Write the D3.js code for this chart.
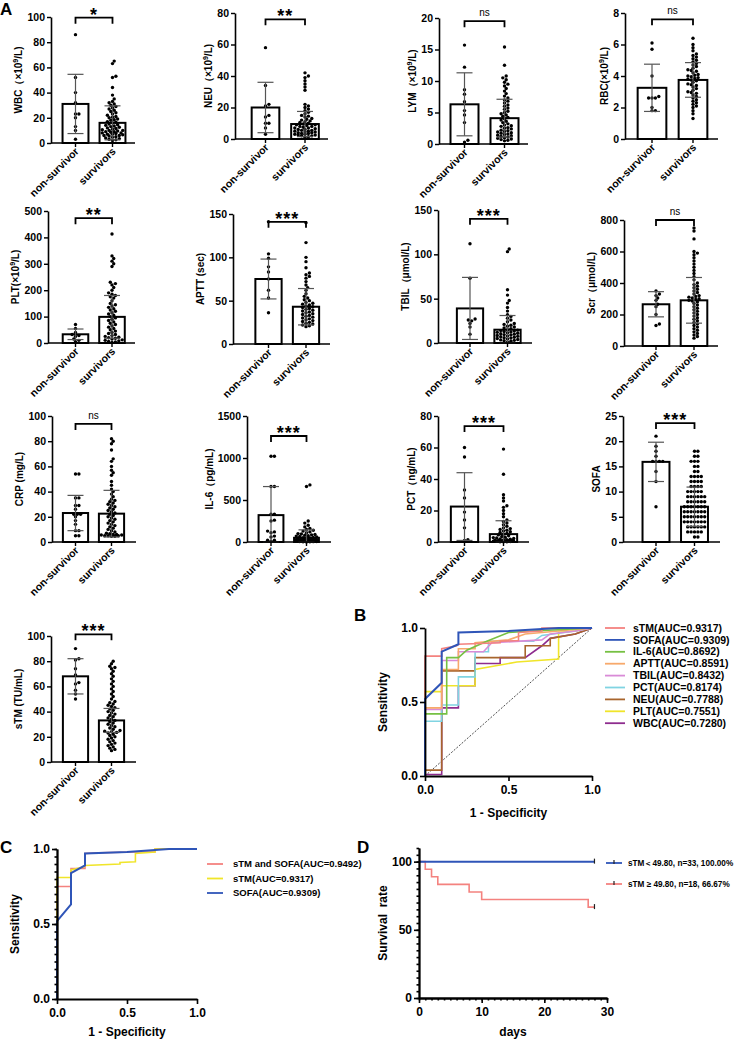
<!DOCTYPE html>
<html>
<head>
<meta charset="utf-8">
<script src="https://cdn.jsdelivr.net/npm/d3@7"></script>
<style>
  body { margin: 0; background: #fff; }
  svg { display: block; }
</style>
</head>
<body>
<svg id="fig" width="737" height="1041"></svg>
<script>
// Figure: A = bar/scatter per marker, B/C = ROC curves, D = survival curves

const FONT = '"Liberation Sans", Arial, sans-serif';
const groups = ['non-survivor', 'survivors'];

// ─── Panel A data ───────────────────────────────────────────────────────────

const wbcNon = [86, 52, 40, 32, 23, 23, 20, 13, 10, 3];
const wbcSurv = [65, 63, 53, 52, 44, 38, 35, 33, 32, 31, 30, 29, 28, 27, 26, 25, 24, 23, 22, 21, 20.5, 20, 19, 18.5, 18, 17,
  16.5, 16, 15, 14.5, 14, 13.5, 13, 12.5, 12, 11.5, 11, 10.5, 10, 10, 9.5, 9, 9, 8.5, 8, 8, 7.5, 7, 7, 6.5, 6, 6, 5.5, 5, 4.5, 4, 3.5, 3, 2.5, 2];
const wbcMean = [31, 16];
const wbcSd = [23.5, 13.5];

const neuNon = [58, 34, 22, 21, 15, 14, 10, 10, 7, 3];
const neuSurv = [42, 40, 39, 37, 35, 33, 31, 22, 21, 20, 19, 18, 17, 16, 15, 14.5, 14, 13, 12.5, 12, 11.5, 11, 10.5, 10, 9.5, 9, 9,
  8.5, 8, 8, 7.5, 7, 7, 6.5, 6, 6, 5.5, 5.5, 5, 5, 4.5, 4.5, 4, 4, 3.5, 3.5, 3, 3, 2.5, 2.5, 2, 2, 1.5, 1];
const neuMean = [20, 9.5];
const neuSd = [16, 8];

const lymNon = [15.7, 12.2, 8.6, 7.9, 6.7, 5.3, 4.6, 3.4, 0.6, 0.3];
const lymSurv = [15.4, 12.5, 10.8, 10.5, 10.2, 9.8, 9.5, 9.2, 8.8, 8.4, 8, 7.6, 7.3, 7, 6.8, 6.5, 6.2, 6, 5.7, 5.5, 5.2, 5, 4.8,
  4.6, 4.4, 4.2, 4, 3.8, 3.6, 3.4, 3.2, 3, 2.9, 2.8, 2.6, 2.5, 2.4, 2.2, 2.1, 2, 1.9, 1.8, 1.7, 1.6, 1.5, 1.4, 1.3, 1.2, 1.1, 1, 0.9, 0.8, 0.7, 0.6, 0.5];
const lymMean = [6.3, 4.1];
const lymSd = [5, 3];

const rbcNon = [6.1, 5.7, 4.0, 2.7, 2.6, 2.6, 2.6, 2.0, 1.8, 1.8];
const rbcSurv = [6.4, 6.0, 5.8, 5.6, 5.4, 5.3, 5.2, 5.1, 5.0, 4.9, 4.8, 4.7, 4.6, 4.5, 4.4, 4.35, 4.3, 4.2, 4.1, 4.05, 4.0, 3.95,
  3.9, 3.85, 3.8, 3.75, 3.7, 3.6, 3.5, 3.45, 3.4, 3.3, 3.2, 3.1, 3.0, 2.95, 2.9, 2.8, 2.7, 2.6, 2.5, 2.4, 2.3, 2.2, 2.1, 2.0, 1.8, 1.6, 1.3];
const rbcMean = [3.25, 3.75];
const rbcSd = [1.5, 1.1];

const pltNon = [70, 55, 40, 32, 28, 25, 15, 10, 5];
const pltSurv = [413, 330, 320, 310, 300, 290, 230, 225, 220, 210, 200, 190, 185, 180, 175, 170, 160, 150, 145, 140, 135, 130, 125,
  120, 115, 110, 105, 100, 95, 90, 85, 80, 75, 70, 65, 60, 55, 50, 45, 40, 36, 32, 28, 25, 22, 20, 18, 15, 12, 10, 8, 6, 4, 2];
const pltMean = [33, 99];
const pltSd = [20, 81];

const apttNon = [141, 104, 99, 89, 83, 75, 62, 53, 36];
const apttSurv = [140, 117, 100, 95, 88, 82, 80, 78, 76, 72, 68, 65, 62, 58, 55, 53, 51, 50, 48, 47, 46, 45, 44, 43, 42, 41, 40,
  39, 38, 37, 36, 35, 34, 33, 32, 31, 30, 29, 28, 27, 26, 25, 24, 23, 22, 21, 20];
const apttMean = [75, 43];
const apttSd = [23, 21];

const tbilNon = [112, 73, 27, 26, 25, 22, 18, 10];
const tbilSurv = [106, 103, 60, 54, 48, 45, 40, 36, 32, 30, 28, 26, 24, 22, 21, 20, 19, 18, 17, 16, 15, 14.5, 14, 13.5, 13, 12.5,
  12, 11.5, 11, 10.5, 10, 9.5, 9, 8.5, 8, 7.5, 7, 6.5, 6, 5.5, 5, 4.5, 4, 3.5, 3, 2.5, 2, 1];
const tbilMean = [39, 15];
const tbilSd = [35, 16];

const scrNon = [350, 330, 320, 305, 290, 265, 250, 200, 140, 130];
const scrSurv = [750, 730, 680, 600, 590, 580, 560, 540, 520, 500, 480, 460, 440, 420, 400, 390, 380, 370, 360, 350, 340, 330, 320,
  315, 310, 305, 300, 295, 290, 285, 280, 270, 260, 250, 240, 230, 220, 210, 200, 190, 180, 170, 160, 150, 140, 130, 120, 110, 100, 90, 80, 70, 60, 50];
const scrMean = [265, 290];
const scrSd = [80, 145];

const crpNon = [54, 54, 35, 35, 29, 29, 26, 22, 22, 22, 20, 17, 14, 9, 9, 5, 5];
const crpSurv = [82, 80, 78, 73, 66, 64, 60, 57, 55, 53, 48, 45, 42, 40, 38, 36, 34, 33, 32, 31, 30, 29, 28, 27, 26, 25, 24, 23,
  22, 21, 20, 19, 18, 17, 16, 15, 14, 13, 12, 11, 10, 9, 8, 7, 6.5, 6, 6, 5.5, 5.5, 5, 5, 5, 4.5, 4.5];
const crpMean = [23, 22.5];
const crpSd = [14, 18.5];

const il6Non = [1020, 1020, 660, 660, 330, 330, 260, 250, 130, 120, 110, 70, 60, 20, 20, 10];
const il6Surv = [680, 660, 250, 225, 200, 180, 160, 150, 140, 130, 120, 110, 100, 95, 90, 85, 80, 75, 70, 65, 60, 55, 50, 48, 45,
  42, 40, 38, 35, 32, 30, 28, 26, 24, 22, 20, 18, 16, 15, 14, 12, 10, 9, 8, 7, 6, 5, 4, 3, 2, 1];
const il6Mean = [320, 50];
const il6Sd = [340, 95];

const pctNon = [60, 54, 33, 28, 19, 14, 9, 1.5, 1];
const pctSurv = [59, 43, 30, 28, 26, 23, 22, 20, 18, 16, 14, 13, 12, 11, 10, 9, 8.5, 8, 7.5, 7, 6.5, 6, 5.5, 5, 4.5, 4, 3.5, 3,
  2.8, 2.5, 2.2, 2, 1.8, 1.5, 1.3, 1.2, 1, 1, 0.8, 0.8, 0.6, 0.5, 0.5, 0.4, 0.3, 0.2, 0.2, 0.1];
const pctMean = [22.5, 5];
const pctSd = [21.5, 8.5];

const sofaNon = [21, 19, 18, 17, 16, 16, 16, 16, 14, 12, 7];
const sofaSurv = [18, 18, 17, 17, 16, 16, 16, 15, 15, 14, 14, 13, 13, 13, 13, 12, 12, 12, 12, 11, 11, 11, 11, 10, 10, 10, 10, 10,
  9, 9, 9, 9, 9, 9, 8, 8, 8, 8, 8, 8, 7, 7, 7, 7, 7, 7, 7, 6, 6, 6, 6, 6, 6, 6, 5, 5, 5, 5, 5, 5, 5, 4, 4, 4, 4, 4, 4, 4,
  3, 3, 3, 3, 3, 3, 2, 2, 2, 2, 2, 1, 1];
const sofaMean = [15.9, 7];
const sofaSd = [3.9, 3.9];

const stmNon = [90, 82, 81, 74, 69, 63, 62, 57, 54, 50];
const stmSurv = [80, 78, 76, 75, 74, 72, 70, 68, 66, 64, 62, 60, 58, 56, 54, 52, 50, 48, 47, 46, 45, 44, 43, 42, 41, 40, 39, 38,
  37, 36, 35, 34, 33, 32, 31, 30, 29, 28, 27, 26, 25, 24.5, 24, 23.5, 23, 22, 21, 20, 19, 18, 17, 16, 15, 14, 13, 12, 11, 10, 9];
const stmMean = [68, 33];
const stmSd = [14, 9.5];

// ─── Panel B / C data: ROC points [1 - specificity, sensitivity] ───────────

const rocSTM = [[0, 0], [0, 0.81], [0.1, 0.81], [0.1, 0.86], [0.19, 0.88], [0.2, 0.89], [0.45, 0.9], [0.45, 0.91], [0.56, 0.915],
  [0.56, 0.97], [0.7, 0.98], [0.7, 1], [1, 1]];
const rocSOFA = [[0, 0], [0, 0.52], [0.1, 0.63], [0.1, 0.84], [0.2, 0.89], [0.2, 0.97], [0.5, 0.98], [0.8, 1], [1, 1]];
const rocIL6 = [[0, 0], [0, 0.42], [0.13, 0.42], [0.13, 0.8], [0.2, 0.8], [0.25, 0.85], [0.37, 0.91], [0.5, 0.97], [0.65, 0.98], [1, 1]];
const rocAPTT = [[0, 0], [0, 0.46], [0.1, 0.46], [0.1, 0.72], [0.2, 0.72], [0.2, 0.86], [0.3, 0.86], [0.3, 0.9], [0.5, 0.92],
  [0.6, 0.96], [0.8, 0.98], [1, 1]];
const rocTBIL = [[0, 0], [0, 0.45], [0.1, 0.45], [0.1, 0.78], [0.2, 0.78], [0.2, 0.84], [0.35, 0.84], [0.4, 0.9], [0.7, 0.92],
  [0.75, 0.96], [0.9, 0.98], [1, 1]];
const rocPCT = [[0, 0], [0, 0.37], [0.1, 0.37], [0.1, 0.48], [0.2, 0.48], [0.2, 0.67], [0.3, 0.67], [0.3, 0.84], [0.38, 0.84],
  [0.38, 0.91], [0.65, 0.91], [0.7, 0.95], [0.9, 0.98], [1, 1]];
const rocNEU = [[0, 0], [0, 0.04], [0.1, 0.04], [0.1, 0.71], [0.3, 0.71], [0.3, 0.8], [0.6, 0.8], [0.6, 0.88], [0.75, 0.88],
  [0.75, 0.93], [0.9, 0.96], [1, 1]];
const rocPLT = [[0, 0], [0, 0.57], [0.1, 0.57], [0.1, 0.61], [0.3, 0.61], [0.3, 0.72], [0.4, 0.74], [0.55, 0.77], [0.8, 0.79],
  [0.8, 0.97], [0.9, 0.98], [1, 1]];
const rocWBC = [[0, 0], [0, 0.01], [0.1, 0.01], [0.1, 0.46], [0.2, 0.46], [0.2, 0.61], [0.3, 0.61], [0.3, 0.76], [0.45, 0.76],
  [0.45, 0.8], [0.6, 0.8], [0.7, 0.88], [0.75, 0.93], [0.9, 0.96], [1, 1]];
const rocCombo = [[0, 0], [0, 0.75], [0.1, 0.75], [0.1, 0.87], [0.2, 0.87], [0.2, 0.97], [0.3, 0.975], [0.55, 0.98], [0.7, 0.98],
  [0.7, 1], [1, 1]];

const rocBNames = ['sTM(AUC=0.9317)', 'SOFA(AUC=0.9309)', 'IL-6(AUC=0.8692)', 'APTT(AUC=0.8591)', 'TBIL(AUC=0.8432)',
  'PCT(AUC=0.8174)', 'NEU(AUC=0.7788)', 'PLT(AUC=0.7551)', 'WBC(AUC=0.7280)'];
const rocBCurves = [rocSTM, rocSOFA, rocIL6, rocAPTT, rocTBIL, rocPCT, rocNEU, rocPLT, rocWBC];
const rocBColors = ['#f4827f', '#2f55b8', '#76c043', '#f7a96b', '#d98bd7', '#80d4e2', '#a8652d', '#f0e52a', '#8e2c8e'];

const rocCNames = ['sTM and SOFA(AUC=0.9492)', 'sTM(AUC=0.9317)', 'SOFA(AUC=0.9309)'];
const rocCCurves = [rocCombo, rocSTM, rocSOFA];
const rocCColors = ['#f4827f', '#f0e52a', '#2f55b8'];

// ─── Panel D data: survival (%) ─────────────────────────────────────────────

const kmLowDays = [0, 28];
const kmLowSurv = [100, 100];
const kmHighDays = [0, 1, 2, 3, 8, 10, 27, 28];
const kmHighSurv = [100, 94.44, 88.89, 83.33, 77.78, 72.22, 66.67, 66.67];
const kmNames = ['sTM＜49.80, n=33, 100.00%', 'sTM ≥ 49.80, n=18, 66.67%'];
const kmColors = ['#2f55b8', '#f4827f'];

// ─── Panel A layout ─────────────────────────────────────────────────────────

const panels = [
  { lab: ['WBC（×10', '9', '/L)'], non: wbcNon, surv: wbcSurv, mean: wbcMean, sd: wbcSd, max: 100, step: 20, sig: '*', br: 99.5,
    x0: 51, top: 17, bottom: 143, c1: 24.5, c2: 61.5, xEnd: 84 },
  { lab: ['NEU（×10', '9', '/L)'], non: neuNon, surv: neuSurv, mean: neuMean, sd: neuSd, max: 80, step: 20, sig: '**', br: 76,
    x0: 235, top: 13, bottom: 139, c1: 30.5, c2: 70, xEnd: 93 },
  { lab: ['LYM（×10', '9', '/L)'], non: lymNon, surv: lymSurv, mean: lymMean, sd: lymSd, max: 20, step: 5, sig: 'ns', br: 19.5,
    x0: 439, top: 18, bottom: 144, c1: 25.5, c2: 65.5, xEnd: 89 },
  { lab: ['RBC(×10', '9', '/L)'], non: rbcNon, surv: rbcSurv, mean: rbcMean, sd: rbcSd, max: 8, step: 2, sig: 'ns', br: 7.6,
    x0: 625, top: 13, bottom: 139, c1: 27, c2: 68, xEnd: 93 },
  { lab: ['PLT(×10', '9', '/L)'], non: pltNon, surv: pltSurv, mean: pltMean, sd: pltSd, max: 500, step: 100, sig: '**', br: 473,
    x0: 48, top: 211, bottom: 343, c1: 27.5, c2: 64, xEnd: 87 },
  { lab: ['APTT (sec)', '', ''], non: apttNon, surv: apttSurv, mean: apttMean, sd: apttSd, max: 150, step: 50, sig: '***', br: 141,
    x0: 233, top: 214, bottom: 344, c1: 35.5, c2: 73, xEnd: 97 },
  { lab: ['TBIL（μmol/L)', '', ''], non: tbilNon, surv: tbilSurv, mean: tbilMean, sd: tbilSd, max: 150, step: 50, sig: '***', br: 140,
    x0: 438, top: 210, bottom: 343, c1: 32, c2: 69.5, xEnd: 94 },
  { lab: ['Scr（μmol/L)', '', ''], non: scrNon, surv: scrSurv, mean: scrMean, sd: scrSd, max: 800, step: 200, sig: 'ns', br: 800,
    x0: 624, top: 220, bottom: 346, c1: 32, c2: 70, xEnd: 94 },
  { lab: ['CRP (mg/L)', '', ''], non: crpNon, surv: crpSurv, mean: crpMean, sd: crpSd, max: 100, step: 20, sig: 'ns', br: 93.7,
    x0: 52, top: 416, bottom: 542, c1: 23.5, c2: 59.5, xEnd: 84 },
  { lab: ['IL-6（pg/mL)', '', ''], non: il6Non, surv: il6Surv, mean: il6Mean, sd: il6Sd, max: 1500, step: 500, sig: '***', br: 1262,
    x0: 247, top: 416, bottom: 542, c1: 24, c2: 59.5, xEnd: 84 },
  { lab: ['PCT（ng/mL)', '', ''], non: pctNon, surv: pctSurv, mean: pctMean, sd: pctSd, max: 80, step: 20, sig: '***', br: 73.6,
    x0: 438, top: 416, bottom: 542, c1: 26.5, c2: 65.5, xEnd: 91 },
  { lab: ['SOFA', '', ''], non: sofaNon, surv: sofaSurv, mean: sofaMean, sd: sofaSd, max: 25, step: 5, sig: '***', br: 23.6,
    x0: 623, top: 416, bottom: 542, c1: 33, c2: 71.5, xEnd: 97 },
  { lab: ['sTM (TU/mL)', '', ''], non: stmNon, surv: stmSurv, mean: stmMean, sd: stmSd, max: 100, step: 20, sig: '***', br: 101.3,
    x0: 51, top: 636, bottom: 762, c1: 24.5, c2: 60.5, xEnd: 85 },
];

const svg = d3.select('#fig').attr('font-family', FONT);

// ─── helpers ────────────────────────────────────────────────────────────────

function styleAxis(g, size, width) {
  g.attr('font-family', FONT).attr('font-size', size).attr('font-weight', 'bold');
  g.select('.domain').attr('stroke', '#000').attr('stroke-width', width);
  g.selectAll('.tick line').attr('stroke', '#000').attr('stroke-width', width * 0.9);
  g.selectAll('.tick text').attr('fill', '#000');
}

// simple beeswarm: spreads equal-ish values sideways like Prism scatter
function swarm(vals, y, r, maxHalf) {
  const pts = vals.map(v => ({ v, y: y(v), dx: 0 })).sort((a, b) => b.y - a.y);
  const placed = [];
  const need = 2 * r * 0.85;
  for (const p of pts) {
    let best = 0, bestGap = -1;
    for (let k = 0; k < 60; k++) {
      const off = (k % 2 ? 1 : -1) * Math.ceil(k / 2) * r;
      if (Math.abs(off) > maxHalf) break;
      let gap = Infinity;
      for (const q of placed) {
        if (Math.abs(q.y - p.y) > need) continue;
        gap = Math.min(gap, Math.hypot(q.dx - off, q.y - p.y));
      }
      if (gap >= need) { best = off; bestGap = gap; break; }
      if (gap > bestGap) { bestGap = gap; best = off; }
    }
    p.dx = best;
    placed.push(p);
  }
  return pts;
}

// ─── Panel A: bar + scatter ─────────────────────────────────────────────────

function drawBarPanel(p) {
  const g = svg.append('g');
  const y = d3.scaleLinear().domain([0, p.max]).range([p.bottom, p.top]);
  const x = d3.scalePoint().domain(groups).range([p.x0 + p.c1, p.x0 + p.c2]);
  const bw = (p.c2 - p.c1) * 0.7;
  const vals = [p.non, p.surv];

  g.selectAll('rect').data(groups).join('rect')
    .attr('x', d => x(d) - bw / 2)
    .attr('width', bw)
    .attr('y', (d, i) => y(p.mean[i]))
    .attr('height', (d, i) => p.bottom - y(p.mean[i]))
    .attr('fill', '#fff')
    .attr('stroke', '#000')
    .attr('stroke-width', 2);

  groups.forEach((grp, i) => {
    const pts = swarm(vals[i], y, 1.7, bw / 2 - 2);
    g.append('g').selectAll('circle').data(pts).join('circle')
      .attr('cx', d => x(grp) + d.dx)
      .attr('cy', d => d.y)
      .attr('r', 1.7)
      .attr('fill', '#000');
  });

  // mean ± SD
  groups.forEach((grp, i) => {
    const cx = x(grp);
    const hi = y(p.mean[i] + p.sd[i]);
    const lo = y(Math.max(0, p.mean[i] - p.sd[i]));
    const eb = g.append('g').attr('stroke', '#555').attr('stroke-width', 1.2);
    eb.append('line').attr('x1', cx).attr('x2', cx).attr('y1', hi).attr('y2', lo);
    eb.append('line').attr('x1', cx - 8).attr('x2', cx + 8).attr('y1', hi).attr('y2', hi);
    eb.append('line').attr('x1', cx - 8).attr('x2', cx + 8).attr('y1', lo).attr('y2', lo);
  });

  // y axis
  const ya = g.append('g').attr('transform', `translate(${p.x0},0)`)
    .call(d3.axisLeft(y).tickValues(d3.range(0, p.max + p.step / 2, p.step))
      .tickFormat(d3.format('~g')).tickSize(4).tickSizeOuter(0).tickPadding(2));
  styleAxis(ya, 10.5, 1.6);

  // x axis
  g.append('line')
    .attr('x1', p.x0).attr('x2', p.x0 + p.xEnd)
    .attr('y1', p.bottom).attr('y2', p.bottom)
    .attr('stroke', '#000').attr('stroke-width', 1.6);
  groups.forEach(grp => {
    g.append('line')
      .attr('x1', x(grp)).attr('x2', x(grp))
      .attr('y1', p.bottom).attr('y2', p.bottom + 4)
      .attr('stroke', '#000').attr('stroke-width', 1.4);
    g.append('text')
      .attr('transform', `translate(${x(grp) + 4},${p.bottom + 9}) rotate(-45)`)
      .attr('text-anchor', 'end')
      .attr('font-size', 10.5)
      .attr('font-weight', 'bold')
      .text(grp);
  });

  // y label
  const bb = ya.node().getBBox();
  const lt = g.append('text')
    .attr('transform', `translate(${p.x0 + bb.x - 5},${(p.top + p.bottom) / 2}) rotate(-90)`)
    .attr('text-anchor', 'middle')
    .attr('font-size', 10)
    .attr('font-weight', 'bold');
  lt.append('tspan').text(p.lab[0]);
  if (p.lab[1]) {
    lt.append('tspan').attr('dy', -4).attr('font-size', 7).text(p.lab[1]);
    lt.append('tspan').attr('dy', 4).text(p.lab[2]);
  }

  // significance bracket
  const by = y(p.br);
  const c0 = x(groups[0]), c1 = x(groups[1]);
  g.append('path')
    .attr('d', `M${c0},${by + 6}V${by}H${c1}V${by + 6}`)
    .attr('fill', 'none').attr('stroke', '#000').attr('stroke-width', 1.8);
  const ns = p.sig === 'ns';
  g.append('text')
    .attr('x', (c0 + c1) / 2)
    .attr('y', ns ? by - 5 : by + 3)
    .attr('text-anchor', 'middle')
    .attr('font-size', ns ? 10 : 18)
    .attr('font-weight', ns ? 'normal' : 'bold')
    .attr('letter-spacing', ns ? 0 : 1)
    .text(p.sig);
}

panels.forEach(drawBarPanel);

// ─── ROC panels ─────────────────────────────────────────────────────────────

function drawRoc(cfg) {
  const g = svg.append('g');
  const x = d3.scaleLinear().domain([0, 1]).range([cfg.left, cfg.right]);
  const y = d3.scaleLinear().domain([0, 1]).range([cfg.bottom, cfg.top]);

  if (cfg.diagonal) {
    g.append('line')
      .attr('x1', x(0)).attr('y1', y(0)).attr('x2', x(1)).attr('y2', y(1))
      .attr('stroke', '#000').attr('stroke-width', 0.7).attr('stroke-dasharray', '2,1.5');
  }

  const line = d3.line().x(d => x(d[0])).y(d => y(d[1]));
  cfg.order.forEach(i => {
    g.append('path')
      .attr('d', line(cfg.curves[i]))
      .attr('fill', 'none')
      .attr('stroke', cfg.colors[i])
      .attr('stroke-width', cfg.colors[i] === '#2f55b8' ? 2 : 1.6);
  });

  const ticks = [0, 0.5, 1];
  if (cfg.minorY) {
    g.append('g').attr('transform', `translate(${cfg.left},0)`)
      .call(d3.axisLeft(y).tickValues(d3.range(0, 1.001, 0.05)).tickSize(2.5).tickSizeOuter(0).tickFormat(''))
      .call(a => styleAxis(a, 12, 1.8));
  }
  const ya = g.append('g').attr('transform', `translate(${cfg.left},0)`)
    .call(d3.axisLeft(y).tickValues(ticks).tickFormat(d3.format('.1f')).tickSize(5).tickSizeOuter(0).tickPadding(2));
  styleAxis(ya, 12, 1.8);
  const xa = g.append('g').attr('transform', `translate(0,${cfg.bottom})`)
    .call(d3.axisBottom(x).tickValues(ticks).tickFormat(d3.format('.1f')).tickSize(5).tickSizeOuter(0).tickPadding(4));
  styleAxis(xa, 12, 1.8);

  g.append('text')
    .attr('x', (cfg.left + cfg.right) / 2).attr('y', cfg.bottom + cfg.titleGap)
    .attr('text-anchor', 'middle').attr('font-size', 12).attr('font-weight', 'bold')
    .text('1 - Specificity');
  g.append('text')
    .attr('transform', `translate(${cfg.left - 38},${(cfg.top + cfg.bottom) / 2}) rotate(-90)`)
    .attr('text-anchor', 'middle').attr('font-size', 12).attr('font-weight', 'bold')
    .text('Sensitivity');

  const lg = g.append('g').attr('transform', `translate(${cfg.legX},${cfg.legY})`);
  cfg.names.forEach((name, i) => {
    const row = lg.append('g').attr('transform', `translate(0,${i * cfg.legStep})`);
    row.append('line').attr('x1', 0).attr('x2', cfg.legLine).attr('y1', 0).attr('y2', 0)
      .attr('stroke', cfg.colors[i]).attr('stroke-width', 1.8);
    row.append('text').attr('x', cfg.legText).attr('y', 0).attr('dy', '0.35em')
      .attr('font-size', cfg.legFont).attr('font-weight', 'bold').text(name);
  });
}

drawRoc({
  left: 425, right: 592, top: 628, bottom: 776, titleGap: 41,
  curves: rocBCurves, colors: rocBColors, names: rocBNames,
  order: [8, 7, 6, 5, 4, 3, 2, 0, 1], diagonal: true, minorY: false,
  legX: 605, legY: 628, legStep: 11.9, legLine: 20, legText: 28, legFont: 10.5,
});

drawRoc({
  left: 57, right: 197, top: 849, bottom: 999, titleGap: 37,
  curves: rocCCurves, colors: rocCColors, names: rocCNames,
  order: [0, 1, 2], diagonal: false, minorY: true,
  legX: 207, legY: 864, legStep: 14.5, legLine: 16, legText: 26, legFont: 9.5,
});

// ─── Panel D: survival ──────────────────────────────────────────────────────

(function drawKM() {
  const g = svg.append('g');
  const left = 419, right = 607, top = 848, bottom = 998;
  const x = d3.scaleLinear().domain([0, 30]).range([left, right]);
  const y = d3.scaleLinear().domain([0, 110]).range([bottom, top]);

  const line = d3.line().x(d => x(d[0])).y(d => y(d[1])).curve(d3.curveStepAfter);
  const series = [
    d3.zip(kmLowDays, kmLowSurv),
    d3.zip(kmHighDays, kmHighSurv),
  ];
  [1, 0].forEach(i => {
    const s = series[i];
    g.append('path').attr('d', line(s)).attr('fill', 'none')
      .attr('stroke', kmColors[i]).attr('stroke-width', i === 0 ? 2 : 1.6);
    const last = s[s.length - 1];
    g.append('line')
      .attr('x1', x(last[0])).attr('x2', x(last[0]))
      .attr('y1', y(last[1]) - 3).attr('y2', y(last[1]) + 2)
      .attr('stroke', '#222').attr('stroke-width', 1.2);
  });

  g.append('g').attr('transform', `translate(${left},0)`)
    .call(d3.axisLeft(y).tickValues(d3.range(0, 111, 5)).tickSize(2.5).tickSizeOuter(0).tickFormat(''))
    .call(a => styleAxis(a, 12, 1.8));
  g.append('g').attr('transform', `translate(0,${bottom})`)
    .call(d3.axisBottom(x).tickValues(d3.range(0, 31, 1)).tickSize(2.5).tickSizeOuter(0).tickFormat(''))
    .call(a => styleAxis(a, 12, 1.8));
  const ya = g.append('g').attr('transform', `translate(${left},0)`)
    .call(d3.axisLeft(y).tickValues([0, 50, 100]).tickSize(5).tickSizeOuter(0).tickPadding(2));
  styleAxis(ya, 12, 1.8);
  const xa = g.append('g').attr('transform', `translate(0,${bottom})`)
    .call(d3.axisBottom(x).tickValues([0, 10, 20, 30]).tickSize(5).tickSizeOuter(0).tickPadding(4));
  styleAxis(xa, 12, 1.8);

  g.append('text')
    .attr('x', (left + right) / 2).attr('y', bottom + 38)
    .attr('text-anchor', 'middle').attr('font-size', 12).attr('font-weight', 'bold')
    .text('days');
  g.append('text')
    .attr('transform', `translate(${left - 32},${(top + bottom) / 2}) rotate(-90)`)
    .attr('text-anchor', 'middle').attr('font-size', 12).attr('font-weight', 'bold')
    .attr('xml:space', 'preserve')
    .text('Survival  rate');

  const lg = g.append('g').attr('transform', 'translate(606,863)');
  kmNames.forEach((name, i) => {
    const row = lg.append('g').attr('transform', `translate(0,${i * 21})`);
    row.append('line').attr('x1', 0).attr('x2', 16).attr('y1', 0).attr('y2', 0)
      .attr('stroke', kmColors[i]).attr('stroke-width', 1.8);
    row.append('line').attr('x1', 8).attr('x2', 8).attr('y1', -3).attr('y2', 1)
      .attr('stroke', '#222').attr('stroke-width', 1.2);
    row.append('text').attr('x', 22).attr('y', 0).attr('dy', '0.35em')
      .attr('font-size', 8.2).attr('font-weight', 'bold').text(name);
  });
})();

// ─── panel letters ──────────────────────────────────────────────────────────

const letters = [['A', 0, 15], ['B', 354, 621], ['C', 0, 853], ['D', 357, 853]];
svg.selectAll('text.letter').data(letters).join('text')
  .attr('class', 'letter')
  .attr('x', d => d[1]).attr('y', d => d[2])
  .attr('font-size', 17).attr('font-weight', 'bold')
  .text(d => d[0]);
</script>
</body>
</html>
